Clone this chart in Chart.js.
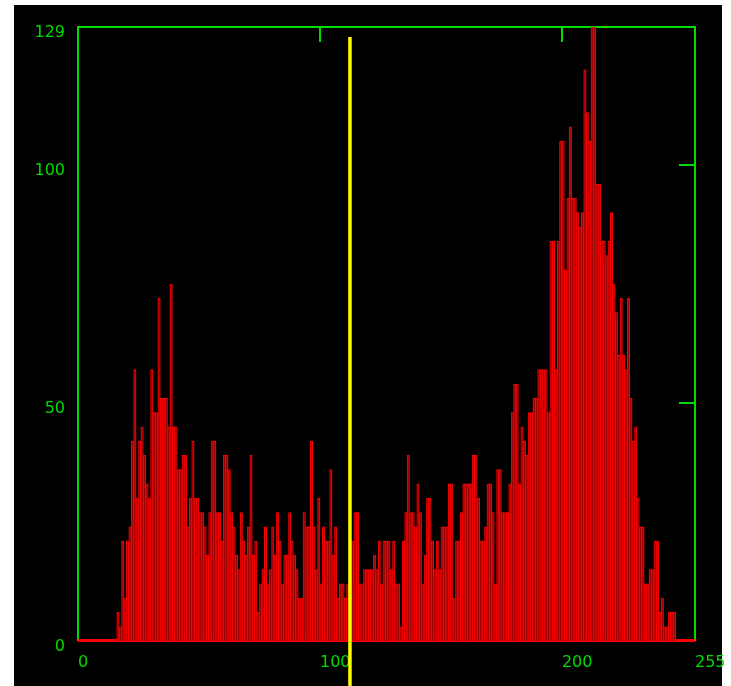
<!DOCTYPE html>
<html>
<head>
<meta charset="utf-8">
<script src="https://cdn.jsdelivr.net/npm/chart.js@4"></script>
<style>
  html, body { margin: 0; padding: 0; background: #fff; }
</style>
</head>
<body>
<canvas id="istogramma" width="731" height="686"></canvas>
<script>
// conteggi per livello di grigio 0..255
const conteggi = [
  0, 0, 0, 0, 0, 0, 0, 0, 0, 0, 0, 0, 0, 0, 0, 0,
  6, 3, 21, 9, 21, 24, 42, 57, 30, 42, 45, 39, 33, 30, 57, 48,
  48, 72, 51, 51, 51, 45, 75, 45, 45, 36, 36, 39, 39, 24, 30, 42,
  30, 30, 27, 27, 24, 18, 27, 42, 42, 27, 27, 21, 39, 39, 36, 27,
  24, 18, 15, 27, 21, 18, 24, 39, 18, 21, 6, 12, 15, 24, 12, 15,
  24, 18, 27, 21, 12, 18, 18, 27, 21, 18, 15, 9, 9, 27, 24, 24,
  42, 24, 15, 30, 12, 24, 21, 21, 36, 18, 24, 9, 12, 12, 9, 12,
  21, 21, 27, 27, 12, 12, 15, 15, 15, 15, 18, 15, 21, 12, 21, 21,
  21, 15, 21, 12, 12, 3, 21, 27, 39, 27, 27, 24, 33, 27, 12, 18,
  30, 30, 21, 15, 21, 15, 24, 24, 24, 33, 33, 9, 21, 21, 27, 33,
  33, 33, 33, 39, 39, 30, 21, 21, 24, 33, 33, 27, 12, 36, 36, 27,
  27, 27, 33, 48, 54, 54, 33, 45, 42, 39, 48, 48, 51, 51, 57, 57,
  57, 57, 48, 84, 84, 57, 84, 105, 105, 78, 93, 108, 93, 93, 90, 87,
  90, 120, 111, 105, 129, 129, 96, 96, 84, 84, 81, 84, 90, 75, 69, 60,
  72, 60, 57, 72, 51, 42, 45, 30, 24, 24, 12, 12, 15, 15, 21, 21,
  6, 9, 3, 3, 6, 6, 6, 0, 0, 0, 0, 0, 0, 0, 0, 0
];
const tickX = [0, 100, 200, 255];
const tickY = [0, 50, 100, 129];
const tacchePiccoleX = [100, 200];
const tacchePiccoleY = [50, 100];
const soglia = 112.4;

const verde = '#00dc00';

const cornice = {
  id: 'cornice',
  beforeDraw(chart) {
    const ctx = chart.ctx;
    ctx.save();
    ctx.fillStyle = '#fff';
    ctx.fillRect(0, 0, chart.width, chart.height);
    ctx.fillStyle = '#000';
    ctx.fillRect(14, 5, 708, 681);
    ctx.restore();
  },
  beforeDatasetsDraw(chart) {
    const { ctx, chartArea: a, scales } = chart;
    ctx.save();
    ctx.strokeStyle = verde;
    ctx.lineWidth = 2;
    ctx.beginPath();
    ctx.moveTo(a.left, a.bottom);
    ctx.lineTo(a.left, a.top);
    ctx.lineTo(a.right, a.top);
    ctx.lineTo(a.right, a.bottom);
    tacchePiccoleX.forEach(v => {
      const x = Math.round(scales.x.getPixelForValue(v));
      ctx.moveTo(x, a.bottom);
      ctx.lineTo(x, a.bottom - 16);
    });
    ctx.stroke();
    ctx.strokeStyle = '#ff0000';
    ctx.lineWidth = 3;
    ctx.beginPath();
    ctx.moveTo(a.left, a.bottom - 0.5);
    ctx.lineTo(a.right, a.bottom - 0.5);
    ctx.stroke();
    ctx.restore();
  },
  afterDatasetsDraw(chart) {
    const { ctx, chartArea: a, scales } = chart;
    ctx.save();
    ctx.strokeStyle = verde;
    ctx.lineWidth = 2;
    ctx.beginPath();
    tacchePiccoleX.forEach(v => {
      const x = Math.round(scales.x.getPixelForValue(v));
      ctx.moveTo(x, a.top);
      ctx.lineTo(x, a.top + 15);
    });
    tacchePiccoleY.forEach(v => {
      const y = Math.round(scales.y.getPixelForValue(v));
      ctx.moveTo(a.right, y);
      ctx.lineTo(a.right - 16, y);
    });
    ctx.stroke();

    // linea di soglia gialla
    const xs = scales.x.getPixelForValue(soglia);
    ctx.strokeStyle = '#ffff00';
    ctx.lineWidth = 3.5;
    ctx.beginPath();
    ctx.moveTo(xs, a.top + 10);
    ctx.lineTo(xs, chart.height);
    ctx.stroke();
    ctx.restore();
  }
};

new Chart(document.getElementById('istogramma'), {
  type: 'bar',
  data: {
    datasets: [{
      data: conteggi.map((v, i) => ({ x: i + 0.5, y: v })),
      backgroundColor: '#9a0000',
      borderColor: '#ff0000',
      borderWidth: 1,
      borderSkipped: 'bottom',
      barPercentage: 1,
      categoryPercentage: 1
    }]
  },
  options: {
    responsive: false,
    animation: false,
    layout: { padding: { top: 27, right: 36, left: 0, bottom: 0 } },
    plugins: {
      legend: { display: false },
      tooltip: { enabled: false }
    },
    scales: {
      x: {
        type: 'linear',
        offset: false,
        min: 0,
        max: 255,
        afterBuildTicks: s => { s.ticks = tickX.map(v => ({ value: v })); },
        afterFit: s => {
          s.height = 45;
          s.paddingLeft = 0;
          s.paddingRight = 0;
        },
        grid: { display: false, drawTicks: false },
        border: { display: false },
        ticks: {
          color: verde,
          font: { family: 'DejaVu Sans', size: 16 },
          align: 'start',
          padding: 12,
          maxRotation: 0,
          autoSkip: false
        }
      },
      y: {
        min: 0,
        max: 129,
        afterBuildTicks: s => { s.ticks = tickY.map(v => ({ value: v })); },
        afterFit: s => { s.width = 78; },
        grid: { display: false, drawTicks: false },
        border: { display: false },
        ticks: {
          color: verde,
          font: { family: 'DejaVu Sans', size: 16 },
          padding: 13,
          labelOffset: 6,
          autoSkip: false
        }
      }
    }
  },
  plugins: [cornice]
});
</script>
</body>
</html>
